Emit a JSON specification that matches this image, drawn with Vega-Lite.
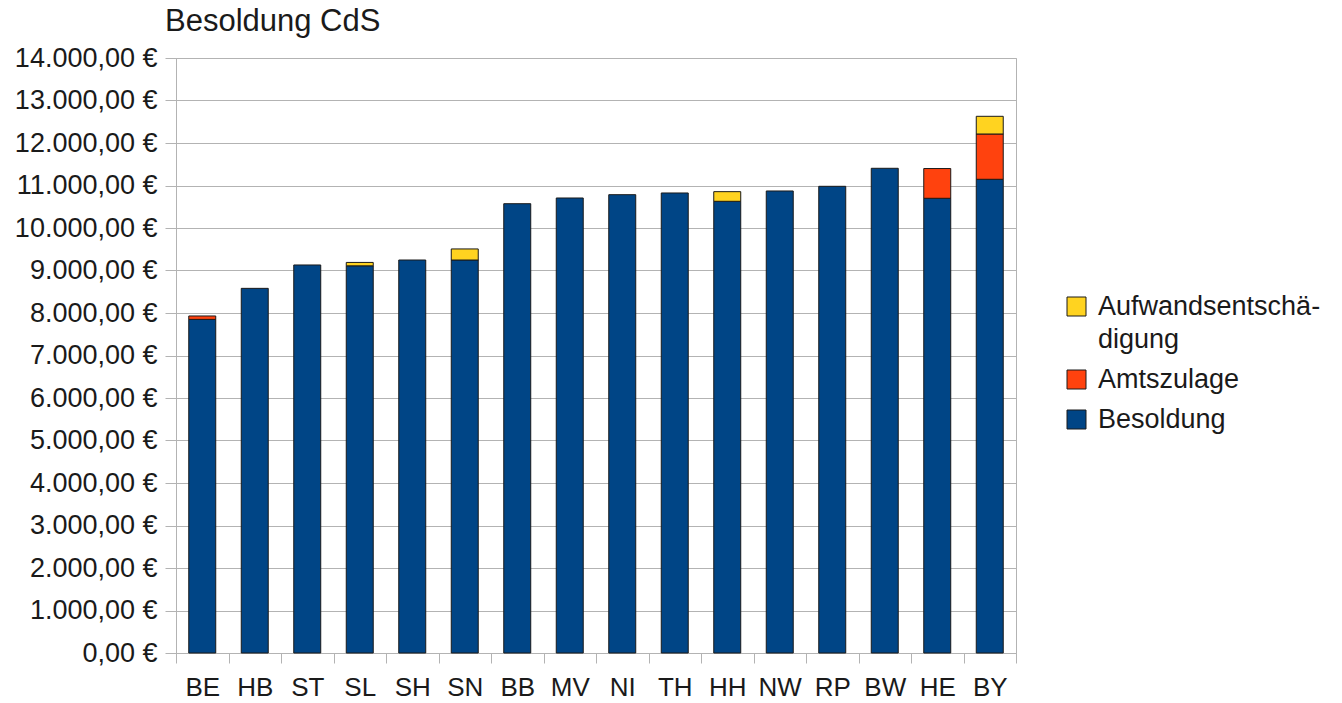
{
  "$schema": "https://vega.github.io/schema/vega-lite/v6.json",
  "width": 840,
  "height": 595,
  "autosize": {"type": "none"},
  "padding": {"left": 176, "top": 58, "right": 326, "bottom": 50},
  "title": {
    "text": "Besoldung CdS",
    "anchor": "start",
    "frame": "group",
    "dx": -11,
    "fontSize": 31,
    "fontWeight": "normal",
    "font": "Liberation Sans",
    "color": "#1a1a1a",
    "baseline": "alphabetic",
    "offset": -18
  },
  "data": {
    "values": [
      {"land": "BE", "kat": "Besoldung", "ord": 1, "wert": 7850},
      {"land": "BE", "kat": "Amtszulage", "ord": 2, "wert": 80},
      {"land": "HB", "kat": "Besoldung", "ord": 1, "wert": 8580},
      {"land": "ST", "kat": "Besoldung", "ord": 1, "wert": 9130},
      {"land": "SL", "kat": "Besoldung", "ord": 1, "wert": 9110},
      {"land": "SL", "kat": "Aufwandsentschädigung", "ord": 3, "wert": 80},
      {"land": "SH", "kat": "Besoldung", "ord": 1, "wert": 9247},
      {"land": "SN", "kat": "Besoldung", "ord": 1, "wert": 9247},
      {"land": "SN", "kat": "Aufwandsentschädigung", "ord": 3, "wert": 260},
      {"land": "BB", "kat": "Besoldung", "ord": 1, "wert": 10572},
      {"land": "MV", "kat": "Besoldung", "ord": 1, "wert": 10706},
      {"land": "NI", "kat": "Besoldung", "ord": 1, "wert": 10784},
      {"land": "TH", "kat": "Besoldung", "ord": 1, "wert": 10824},
      {"land": "HH", "kat": "Besoldung", "ord": 1, "wert": 10628},
      {"land": "HH", "kat": "Aufwandsentschädigung", "ord": 3, "wert": 227},
      {"land": "NW", "kat": "Besoldung", "ord": 1, "wert": 10871},
      {"land": "RP", "kat": "Besoldung", "ord": 1, "wert": 10981},
      {"land": "BW", "kat": "Besoldung", "ord": 1, "wert": 11405},
      {"land": "HE", "kat": "Besoldung", "ord": 1, "wert": 10699},
      {"land": "HE", "kat": "Amtszulage", "ord": 2, "wert": 700},
      {"land": "BY", "kat": "Besoldung", "ord": 1, "wert": 11146},
      {"land": "BY", "kat": "Amtszulage", "ord": 2, "wert": 1066},
      {"land": "BY", "kat": "Aufwandsentschädigung", "ord": 3, "wert": 416}
    ]
  },
  "mark": {"type": "bar", "width": {"band": 0.514}, "stroke": "#1a1a1a", "strokeWidth": 1},
  "encoding": {
    "x": {
      "field": "land",
      "type": "nominal",
      "sort": ["BE","HB","ST","SL","SH","SN","BB","MV","NI","TH","HH","NW","RP","BW","HE","BY"],
      "scale": {"paddingInner": 0, "paddingOuter": 0},
      "axis": {
        "title": null,
        "labelAngle": 0,
        "tickBand": "extent",
        "tickSize": 10,
        "tickColor": "#b3b3b3",
        "domainColor": "#b3b3b3",
        "labelFontSize": 26,
        "labelFont": "Liberation Sans",
        "labelColor": "#1a1a1a",
        "labelPadding": 11,
        "grid": false
      }
    },
    "y": {
      "field": "wert",
      "type": "quantitative",
      "stack": "zero",
      "scale": {"domain": [0, 14000], "nice": false},
      "axis": {
        "title": null,
        "values": [0,1000,2000,3000,4000,5000,6000,7000,8000,9000,10000,11000,12000,13000,14000],
        "format": "$,.2f",
        "tickSize": 11,
        "tickColor": "#b3b3b3",
        "domainColor": "#b3b3b3",
        "gridColor": "#b3b3b3",
        "labelFontSize": 27,
        "labelFont": "Liberation Sans",
        "labelColor": "#1a1a1a",
        "labelPadding": 8
      }
    },
    "color": {
      "field": "kat",
      "type": "nominal",
      "scale": {
        "domain": ["Aufwandsentschädigung", "Amtszulage", "Besoldung"],
        "range": ["#ffd320", "#ff420e", "#004586"]
      },
      "legend": {
        "title": null,
        "orient": "none",
        "legendX": 887,
        "legendY": 235,
        "symbolType": "square",
        "symbolSize": 361,
        "symbolStrokeColor": "#1a1a1a",
        "symbolStrokeWidth": 1,
        "symbolOpacity": 1,
        "labelFontSize": 27,
        "labelFont": "Liberation Sans",
        "labelColor": "#1a1a1a",
        "labelOffset": 8,
        "labelLimit": 300,
        "rowPadding": 12,
        "labelExpr": "datum.label == 'Aufwandsentschädigung' ? ['Aufwandsentschä-', 'digung'] : datum.label"
      }
    },
    "order": {"field": "ord", "type": "quantitative"}
  },
  "config": {
    "locale": {"number": {"decimal": ",", "thousands": ".", "grouping": [3], "currency": ["", " €"]}},
    "view": {"stroke": "#b3b3b3"},
    "font": "Liberation Sans",
    "style": {"guide-label": {"lineHeight": 33}}
  }
}
